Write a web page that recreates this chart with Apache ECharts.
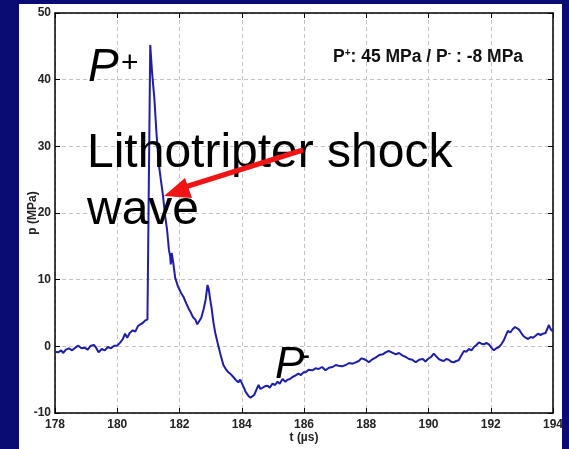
<!DOCTYPE html>
<html>
<head>
<meta charset="utf-8">
<script src="https://cdn.jsdelivr.net/npm/echarts@6/dist/echarts.min.js"></script>
<style>html,body{margin:0;padding:0;background:#0b0b74;}#c{width:569px;height:449px;}</style>
</head>
<body>
<div id="c"></div>
<script>
// time (µs)
const timeUs = [178.00,178.10,178.20,178.26,178.35,178.45,178.55,178.65,178.75,178.85,178.95,179.05,179.15,179.25,179.32,179.40,179.50,179.60,179.70,179.80,179.90,180.00,180.10,180.18,180.25,180.32,180.40,180.50,180.58,180.66,180.74,180.82,180.90,180.97,181.06,181.12,181.19,181.26,181.33,181.40,181.47,181.54,181.60,181.66,181.70,181.72,181.75,181.80,181.86,181.95,182.05,182.13,182.22,182.30,182.35,182.43,182.51,182.57,182.62,182.70,182.77,182.84,182.90,182.94,182.98,183.03,183.09,183.15,183.22,183.31,183.41,183.50,183.57,183.65,183.73,183.80,183.89,183.95,184.02,184.08,184.12,184.21,184.28,184.34,184.40,184.44,184.50,184.54,184.60,184.66,184.74,184.83,184.90,184.99,185.07,185.15,185.22,185.31,185.40,185.47,185.55,185.63,185.72,185.82,185.90,185.98,186.05,186.15,186.27,186.37,186.47,186.58,186.69,186.80,186.92,187.02,187.11,187.22,187.34,187.45,187.56,187.66,187.76,187.85,187.92,188.00,188.08,188.18,188.30,188.42,188.53,188.62,188.72,188.82,188.95,189.05,189.17,189.27,189.37,189.48,189.59,189.70,189.82,189.90,189.98,190.08,190.17,190.25,190.33,190.41,190.49,190.57,190.65,190.73,190.81,190.89,190.97,191.05,191.14,191.22,191.30,191.38,191.46,191.54,191.62,191.70,191.78,191.86,191.94,192.02,192.10,192.18,192.26,192.34,192.42,192.50,192.55,192.63,192.71,192.78,192.84,192.91,192.98,193.04,193.12,193.20,193.28,193.36,193.44,193.52,193.60,193.68,193.76,193.81,193.87,193.92,194.00];
// pressure (MPa)
const pressureMPa = [-0.8,-0.9,-0.6,-1.0,-0.5,-0.3,-0.6,-0.2,0.1,-0.3,-0.2,-0.5,0.1,0.2,-0.2,-0.9,-0.4,-0.6,-0.1,-0.3,0.1,0.1,0.6,1.1,1.9,1.3,2.0,2.4,2.2,3.0,3.3,3.5,3.9,4.0,45.2,41.0,37.3,32.0,27.5,25.0,22.6,19.5,17.5,14.5,13.5,12.3,14.0,12.5,10.3,9.0,8.0,7.4,6.4,5.6,5.2,4.4,4.0,3.3,3.6,4.3,5.5,7.0,9.2,8.6,7.2,5.8,3.6,2.0,0.6,-1.1,-2.8,-3.5,-3.9,-4.2,-4.6,-5.0,-5.4,-5.0,-5.7,-6.3,-6.8,-7.4,-7.7,-7.9,-7.3,-7.0,-6.2,-5.8,-6.4,-6.7,-6.0,-5.9,-6.2,-5.6,-5.8,-5.3,-5.6,-4.9,-5.3,-5.0,-4.9,-4.6,-4.4,-4.1,-4.3,-3.9,-3.9,-3.5,-3.6,-3.3,-3.4,-3.1,-3.6,-3.2,-3.1,-2.8,-2.9,-3.0,-2.8,-2.5,-2.6,-2.4,-2.2,-1.8,-1.9,-2.1,-2.4,-2.0,-1.7,-1.3,-1.2,-0.9,-0.7,-0.9,-1.2,-1.0,-1.4,-1.6,-1.9,-2.0,-2.4,-2.0,-1.9,-2.3,-1.9,-1.6,-1.1,-1.5,-1.9,-2.1,-2.2,-1.9,-2.0,-2.3,-2.4,-2.2,-2.1,-1.4,-0.7,-0.8,-0.4,-0.6,-0.1,0.2,0.6,0.4,0.3,0.5,0.3,-0.2,-0.6,-0.3,-0.1,0.3,0.9,1.8,2.3,2.1,2.6,2.9,2.7,2.5,2.0,1.6,1.3,1.1,1.4,1.3,1.6,1.9,1.7,1.9,2.0,2.2,3.2,2.6,2.2];
const xTicks = [178,180,182,184,186,188,190,192,194];
const yTicks = [-10,0,10,20,30,40,50];

const FONT = '"Liberation Sans", Arial, Helvetica, sans-serif';
const chart = echarts.init(document.getElementById('c'), null, {renderer:'canvas'});
const data = timeUs.map((t,i)=>[t, pressureMPa[i]]);
const gridLine = {show:true, lineStyle:{color:'#c4c4c4', type:[4,3], width:1}};
const axisLbl = {color:'#222', fontFamily:FONT, fontWeight:'bold', fontSize:12};
chart.setOption({
  backgroundColor:'#0b0b74',
  animation:false,
  grid:{left:55, right:16, top:13, bottom:35, containLabel:false},
  xAxis:[{
    type:'value', min:xTicks[0], max:xTicks[xTicks.length-1], interval:2,
    axisLine:{onZero:false, lineStyle:{color:'#000', width:1.5}},
    axisTick:{inside:true, length:5, lineStyle:{color:'#000'}},
    axisLabel:Object.assign({margin:6}, axisLbl),
    splitLine:gridLine,
    name:'t (µs)', nameLocation:'middle', nameGap:19, nameMoveOverlap:false,
    nameTextStyle:{color:'#222', fontFamily:FONT, fontWeight:'bold', fontSize:12}
  },{
    type:'value', position:'top', min:xTicks[0], max:xTicks[xTicks.length-1], interval:2,
    axisLine:{onZero:false, lineStyle:{color:'#000', width:1.5}},
    axisTick:{inside:true, length:5, lineStyle:{color:'#000'}},
    axisLabel:{show:false}, splitLine:{show:false}
  }],
  yAxis:[{
    type:'value', min:yTicks[0], max:yTicks[yTicks.length-1], interval:10,
    axisLine:{show:true, onZero:false, lineStyle:{color:'#000', width:1.5}},
    axisTick:{show:true, inside:true, length:5, lineStyle:{color:'#000'}},
    axisLabel:Object.assign({margin:4}, axisLbl),
    splitLine:gridLine,
    name:'p (MPa)', nameLocation:'middle', nameGap:16, nameRotate:90, nameMoveOverlap:false,
    nameTextStyle:{color:'#222', fontFamily:FONT, fontWeight:'bold', fontSize:12}
  },{
    type:'value', position:'right', min:yTicks[0], max:yTicks[yTicks.length-1], interval:10,
    axisLine:{show:true, onZero:false, lineStyle:{color:'#000', width:1.5}},
    axisTick:{show:true, inside:true, length:5, lineStyle:{color:'#000'}},
    axisLabel:{show:false}, splitLine:{show:false}
  }],
  series:[{
    type:'line', data:data, showSymbol:false, symbol:'none',
    lineStyle:{color:'#1e1eaa', width:2}, z:3
  }],
  graphic:{elements:[
    {type:'rect', z:-100, shape:{x:19, y:4, width:543, height:445}, style:{fill:'#ffffff'}, silent:true},
    {type:'text', z:100, x:88, y:68, style:{text:'P', font:'italic 46px '+FONT, fill:'#000', verticalAlign:'middle'}},
    {type:'text', z:100, x:121, y:64, style:{text:'+', font:'30px '+FONT, fill:'#000', verticalAlign:'middle'}},
    {type:'text', z:100, x:87, y:154, style:{text:'Lithotripter shock', font:'48px '+FONT, fill:'#000', verticalAlign:'middle'}},
    {type:'text', z:100, x:87, y:211, style:{text:'wave', font:'48px '+FONT, fill:'#000', verticalAlign:'middle'}},
    {type:'text', z:100, x:275, y:366, style:{text:'P', font:'italic 44px '+FONT, fill:'#000', verticalAlign:'middle'}},
    {type:'text', z:100, x:299, y:357, style:{text:'-', font:'34px '+FONT, fill:'#000', verticalAlign:'middle'}},
    {type:'text', z:100, x:333, y:57, style:{
      text:'{a|P}{s|+}{a|: 45 MPa / P}{s|-}{a| : -8 MPa}',
      verticalAlign:'middle',
      rich:{
        a:{font:'bold 17.5px '+FONT, fill:'#111', lineHeight:18},
        s:{font:'bold 10px '+FONT, fill:'#111', verticalAlign:'top', lineHeight:18}
      }}},
    {type:'line', z:101, shape:{x1:303, y1:150, x2:185, y2:187}, style:{stroke:'#f01414', lineWidth:5}},
    {type:'polygon', z:101, shape:{points:[[164,196],[185,178],[192,198]]}, style:{fill:'#f01414'}}
  ]}
});
</script>
</body>
</html>
